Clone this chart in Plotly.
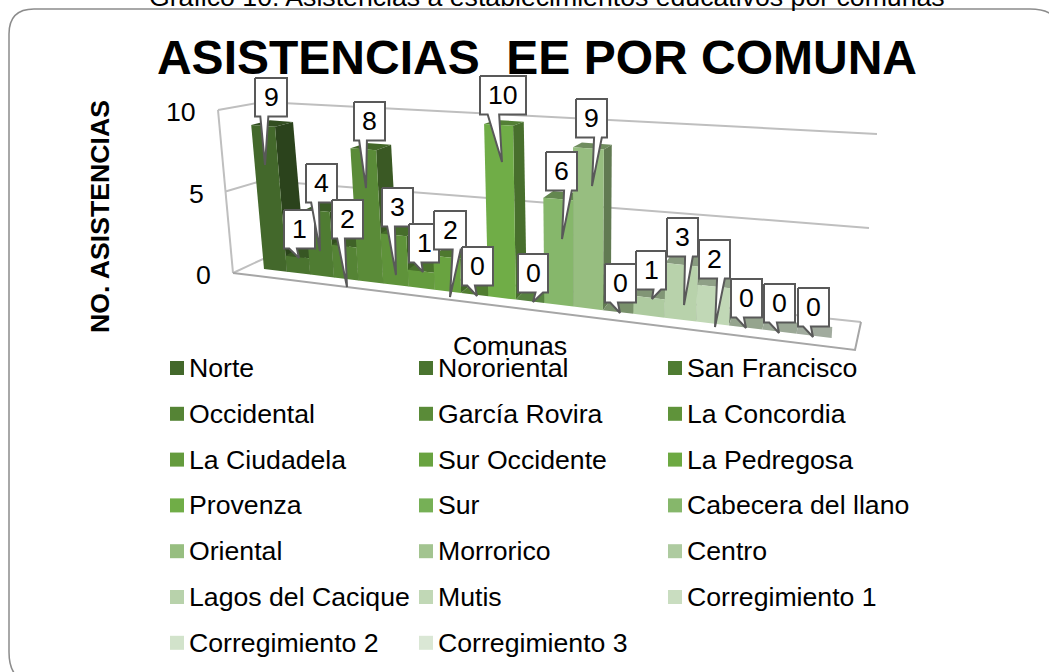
import plotly.graph_objects as go

SERIES = ["Norte", "Nororiental", "San Francisco", "Occidental", "García Rovira", "La Concordia",
          "La Ciudadela", "Sur Occidente", "La Pedregosa", "Provenza", "Sur", "Cabecera del llano",
          "Oriental", "Morrorico", "Centro", "Lagos del Cacique", "Mutis", "Corregimiento 1",
          "Corregimiento 2", "Corregimiento 3"]
VALUES = [9, 1, 4, 2, 8, 3, 1, 2, 0, 10, 0, 6, 9, 0, 1, 3, 2, 0, 0, 0]
COLORS = ["#43682B", "#4A742F", "#4F7C32", "#558435", "#5A8B38", "#5F933A", "#649B3D", "#69A340",
          "#6DA942", "#70AD47", "#76B056", "#86B76B", "#97BE80", "#A3C490", "#AECBA0", "#B8D2AB",
          "#C1D8B6", "#C9DDC0", "#D2E3CB", "#DAE7D5"]
Y_TICKS = [0, 5, 10]
Y_MAX = 10
TITLE = "ASISTENCIAS\u00a0\u00a0EE POR COMUNA"
TOP_TEXT = "Gráfico 10. Asistencias a establecimientos educativos por comunas"
FONT = "Liberation Sans"

# callout layout: box left, box top, box width; tail tip x, y
CALLOUT_BOXES = [(255, 78, 32), (284, 210, 31), (306, 164, 31), (332, 200, 31), (354, 102, 31),
                 (382, 188, 31), (409, 224, 30), (434, 211, 32), (462, 247, 31), (480, 76, 46),
                 (518, 254, 30), (546, 152, 31), (576, 99, 31), (605, 264, 31), (636, 251, 30),
                 (667, 218, 31), (699, 240, 31), (731, 279, 31), (764, 284, 31), (798, 288, 31)]
CALLOUT_TIPS = [(265, 165), (299, 258), (320, 251), (347, 287), (366, 188), (396, 275), (423, 272),
                (450, 297), (477, 296), (502, 162), (533, 302), (562, 239), (592, 186), (620, 313),
                (652, 299), (684, 305), (715, 327), (746, 328), (779, 333), (813, 337)]
BOX_H = 38.5
W, H = 1049, 672


def slot_x(i):
    return 264 + 22.65 * i / (1 - 0.0101 * i)


def project(xb, v, d=0.0):
    base = 269 + 0.1215 * (xb - 264)
    h = 16 + 0.0055 * (xb - 264)
    x = xb + v * 0.0045 * (xb - 580)
    y = base - v * h
    return x + d * 0.032 * (850 - xb), y - d * (11 - 0.7 * v)


def shade(hex_color, f):
    r, g, b = (int(hex_color[k:k + 2], 16) for k in (1, 3, 5))
    return f"rgb({r * f:.0f},{g * f:.0f},{b * f:.0f})"


def lerp(a, b, t):
    return (a[0] + (b[0] - a[0]) * t, a[1] + (b[1] - a[1]) * t)


def poly(points, fill, name=None, line=None, width=0):
    xs = [p[0] for p in points] + [points[0][0]]
    ys = [p[1] for p in points] + [points[0][1]]
    return go.Scatter(x=xs, y=ys, mode="lines", fill="toself", fillcolor=fill, name=name,
                      line=dict(color=line or fill, width=width), showlegend=False, hoverinfo="skip")


fig = go.Figure()

# walls and floor
FL_B, FL_T = (233, 273), (218, 110)
BL_B, BL_T = (263, 259), (263, 102)
BR_B, BR_T = (861, 322), (877, 134)
FR_B = (855, 350)
GRID = "#BFBFBF"
for tick in Y_TICKS:
    t = tick / Y_MAX
    pts = [lerp(FL_B, FL_T, t), lerp(BL_B, BL_T, t), lerp(BR_B, BR_T, t)]
    fig.add_trace(go.Scatter(x=[p[0] for p in pts], y=[p[1] for p in pts], mode="lines",
                             line=dict(color=GRID, width=2), showlegend=False, hoverinfo="skip"))
fig.add_trace(go.Scatter(x=[FL_T[0], FL_B[0]], y=[FL_T[1], FL_B[1]], mode="lines",
                         line=dict(color=GRID, width=2), showlegend=False, hoverinfo="skip"))
fig.add_trace(go.Scatter(x=[FL_B[0], FR_B[0], BR_B[0]], y=[FL_B[1], FR_B[1], BR_B[1]], mode="lines",
                         line=dict(color="#A6A6A6", width=2), showlegend=False, hoverinfo="skip"))

# bars
for i, (name, v, c) in enumerate(zip(SERIES, VALUES, COLORS)):
    xl, xr = slot_x(i), slot_x(i + 1)
    fig.add_trace(poly([project(xl, v), project(xr, v), project(xr, v, 1), project(xl, v, 1)], shade(c, 0.74), name))
    fig.add_trace(poly([project(xr, 0), project(xr, v), project(xr, v, 1), project(xr, 0, 1)], shade(c, 0.64), name))
    if v > 0:
        fig.add_trace(poly([project(xl, 0), project(xr, 0), project(xr, v), project(xl, v)], c, name))

# legend: three columns, the last row split off so the block stays inside the figure
LEGEND_TOP = 343
LEGEND_ROW = 45.8
LEGEND_COL_X = [149, 398, 647]
LEGEND_SWATCH_X = [177, 426, 675]
legend_ids = ["legend", "legend2", "legend3", "legend4", "legend5"]
for i, (name, c) in enumerate(zip(SERIES, COLORS)):
    row, col = i // 3, i % 3
    lid = legend_ids[col] if row < 6 else legend_ids[3 + col]
    fig.add_trace(go.Scatter(x=[None], y=[None], mode="markers", name=name, legendgroup=name,
                             marker=dict(symbol="square", size=14, color="rgba(0,0,0,0)"),
                             legend=lid, hoverinfo="skip"))
    fig.add_trace(go.Scatter(x=[LEGEND_SWATCH_X[col]], y=[368 + row * LEGEND_ROW], mode="markers",
                             marker=dict(symbol="square", size=14, color=c, line=dict(width=0)),
                             showlegend=False, hoverinfo="skip", name=name))

# callouts
annotations = []
for label, box, tip in zip(VALUES, CALLOUT_BOXES, CALLOUT_TIPS):
    l, t, w = box
    b, r = t + BOX_H, l + w
    cx = l + w / 2
    if tip[0] < cx:
        b1, b2 = l + w * 2 / 12, l + w * 5 / 12
    else:
        b1, b2 = l + w * 7 / 12, l + w * 10 / 12
    outline = [(l, t), (r, t), (r, b), (b2, b), tip, (b1, b), (l, b)]
    fig.add_trace(poly(outline, "white", line="#595959", width=2))
    annotations.append(dict(x=cx, y=t + BOX_H / 2, text=str(label), showarrow=False,
                            font=dict(size=26.67, color="black", family=FONT),
                            xanchor="center", yanchor="middle"))

# axis tick labels follow the left wall
for tick in Y_TICKS:
    px, py = lerp(FL_B, FL_T, tick / Y_MAX)
    annotations.append(dict(x=px - 20, y=py + 2, text=str(tick), showarrow=False, xanchor="right",
                            yanchor="middle", font=dict(size=26.67, color="black", family=FONT)))

annotations += [
    dict(x=510, y=346, text="Comunas", showarrow=False, xanchor="center", yanchor="middle",
         font=dict(size=26.67, color="black", family=FONT)),
    dict(x=100, y=217, text="<b>NO. ASISTENCIAS</b>", textangle=-90, showarrow=False,
         xanchor="center", yanchor="middle", font=dict(size=26.67, color="black", family=FONT)),
    dict(x=147, xref="x", y=1 + 3.5 / H, yref="paper", text=TOP_TEXT, showarrow=False, xanchor="left", yanchor="middle",
         font=dict(size=26.67, color="black", family=FONT)),
]

frame = "M 9 34 Q 9 9 34 9 L 1030 9 Q 1060 9 1060 34 L 1060 652 Q 1060 682 1030 682 L 34 682 Q 9 682 9 652 Z"
legend_common = dict(font=dict(size=26.67, color="black", family=FONT), tracegroupgap=8,
                     bgcolor="rgba(0,0,0,0)", borderwidth=0, xanchor="left", yanchor="top",
                     itemclick=False, itemdoubleclick=False, itemwidth=30)

fig.update_layout(
    width=W, height=H, autosize=False, margin=dict(l=0, r=0, t=0, b=0),
    paper_bgcolor="white", plot_bgcolor="white", hovermode=False,
    xaxis=dict(range=[0, W], visible=False, fixedrange=True),
    yaxis=dict(range=[H, 0], visible=False, fixedrange=True),
    title=dict(text=f"<b>{TITLE}</b>", x=537 / W, xanchor="center", y=1 - 57 / H, yanchor="middle",
               font=dict(size=48, color="black", family=FONT)),
    annotations=annotations,
    shapes=[dict(type="path", path=frame, xref="x", yref="y", line=dict(color="#8C8C8C", width=1.5), layer="below")],
    legend=dict(x=LEGEND_COL_X[0] / W, y=1 - LEGEND_TOP / H, **legend_common),
    legend2=dict(x=LEGEND_COL_X[1] / W, y=1 - LEGEND_TOP / H, **legend_common),
    legend3=dict(x=LEGEND_COL_X[2] / W, y=1 - LEGEND_TOP / H, **legend_common),
    legend4=dict(x=LEGEND_COL_X[0] / W, y=1 - (LEGEND_TOP + 6 * LEGEND_ROW) / H, **legend_common),
    legend5=dict(x=LEGEND_COL_X[1] / W, y=1 - (LEGEND_TOP + 6 * LEGEND_ROW) / H, **legend_common),
)

fig.write_html("out.html", post_script="document.body.style.margin='0';", config={"displayModeBar": False})
